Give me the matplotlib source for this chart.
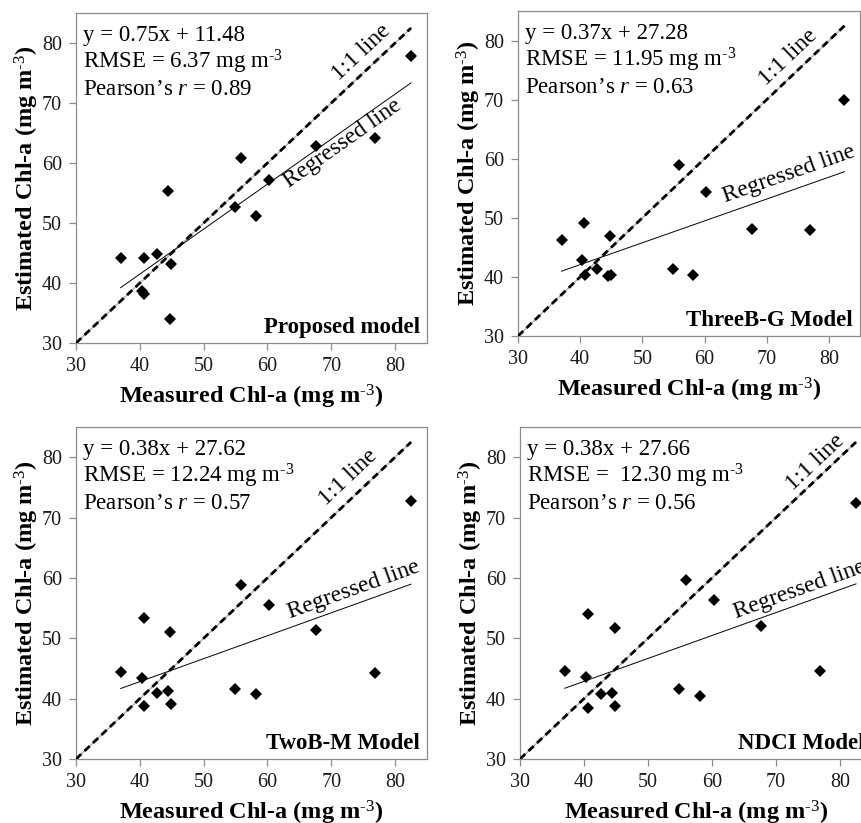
import numpy as np
import matplotlib
matplotlib.use("Agg")
import matplotlib.pyplot as plt

plt.rcParams["font.family"] = ["Liberation Serif", "DejaVu Serif"]
plt.rcParams["mathtext.fontset"] = "custom"
plt.rcParams["mathtext.rm"] = "Liberation Serif"
plt.rcParams["mathtext.it"] = "Liberation Serif:italic"
plt.rcParams["mathtext.bf"] = "Liberation Serif:bold"

# measured Chl-a (shared by all four panels)
measured = [37.0, 40.3, 40.6, 40.7, 42.7, 44.4, 44.8, 44.9, 54.9, 55.9, 58.2, 60.3, 67.6, 76.9, 82.5]

# estimated Chl-a per model
est_proposed = [44.1, 38.6, 44.1, 38.1, 44.8, 55.3, 34.0, 43.1, 52.6, 60.9, 51.2, 57.1, 62.9, 64.1, 77.9]
est_threeb = [46.3, 42.9, 49.1, 40.4, 41.3, 40.2, 47.0, 40.4, 41.4, 58.9, 40.3, 54.4, 48.1, 47.9, 69.9]
est_twob = [44.4, 43.5, 53.4, 38.8, 40.9, 41.2, 51.0, 39.1, 41.6, 58.8, 40.7, 55.5, 51.4, 44.3, 72.8]
est_ndci = [44.6, 43.6, 54.1, 38.4, 40.7, 41.0, 51.7, 38.7, 41.6, 59.6, 40.5, 56.4, 52.0, 44.5, 72.4]

model_names = ["Proposed model", "ThreeB-G Model", "TwoB-M Model", "NDCI Model"]
slopes = [0.75, 0.37, 0.38, 0.38]
intercepts = [11.48, 27.28, 27.62, 27.66]
rmse_values = ["6.37", "11.95", "12.24", " 12.30"]
pearson_values = ["0.89", "0.63", "0.57", "0.56"]

ticks = [30, 40, 50, 60, 70, 80]

# layout (pixels of the 861x823 figure -> figure fractions)
W, H = 861, 823
PANELS = [
    (76, 427, 13, 343),
    (518, 860, 11, 336),
    (76, 427, 427, 759),
    (520, 872, 427, 759),
]
# label positions in data units: (1:1 label, regressed label)
LABEL_POS = [
    ((74.7, 78.4), (71.8, 63.3)),
    ((73.5, 77.1), (73.5, 57.4)),
    ((72.7, 76.6), (73.5, 58.0)),
    ((76.1, 79.1), (73.7, 58.0)),
]

SPINE = "#8c8c8c"
UNIT = "(mg m$\\mathbf{^{\\text{-3}}}$)"

fig = plt.figure(figsize=(W / 100, H / 100), dpi=100)
fig.patch.set_facecolor("white")

estimates = [est_proposed, est_threeb, est_twob, est_ndci]

for i, est in enumerate(estimates):
    left, right, top, bottom = PANELS[i]
    ax = fig.add_axes([left / W, 1 - bottom / H, (right - left) / W, (bottom - top) / H])
    ax.set_xlim(30, 85)
    ax.set_ylim(30, 85)
    ax.set_xticks(ticks)
    ax.set_yticks(ticks)
    for sp in ax.spines.values():
        sp.set_color(SPINE)
        sp.set_linewidth(0.9)
    ax.tick_params(direction="out", length=5, width=0.9, color=SPINE,
                   labelsize=14.5, labelcolor="#1a1a1a", pad=5)

    x = np.array(measured)
    xmax = x.max()
    ax.plot([30, xmax], [30, xmax], color="#b0b0b0", lw=1.0, zorder=2)
    ax.plot([30, xmax], [30, xmax], color="black", lw=2.0,
            dashes=(2.6, 1.6), zorder=3)

    xr = np.array([x.min(), x.max()])
    ax.plot(xr, slopes[i] * xr + intercepts[i], color="black", lw=0.7, zorder=3)

    ax.plot(measured, est, "D", color="black", ms=6.2, mew=0, zorder=4)

    (ox, oy), (rx, ry) = LABEL_POS[i]
    ax.text(ox, oy, "1:1 line", fontsize=17, rotation=45,
            transform_rotates_text=True, rotation_mode="anchor",
            ha="center", va="center")
    ax.text(rx, ry, "Regressed line", fontsize=17,
            rotation=np.degrees(np.arctan(slopes[i])),
            transform_rotates_text=True, rotation_mode="anchor",
            ha="center", va="center")

    tx = 7 / (right - left)
    h = bottom - top
    ax.text(tx, 1 - 28 / h, f"y = {slopes[i]:.2f}x + {intercepts[i]:.2f}",
            transform=ax.transAxes, fontsize=16.5, va="baseline")
    ax.text(tx, 1 - 55 / h, f"RMSE = {rmse_values[i]} mg m$^{{\\text{{-3}}}}$",
            transform=ax.transAxes, fontsize=16.5, va="baseline")
    ax.text(tx, 1 - 82 / h, f"Pearson\u2019s $\\mathit{{r}}$ = {pearson_values[i]}",
            transform=ax.transAxes, fontsize=16.5, va="baseline")

    ax.text(1 - 7 / (right - left), 10 / h, model_names[i], transform=ax.transAxes,
            fontsize=16.5, fontweight="bold", ha="right", va="baseline")

    ax.set_xlabel("Measured Chl-a " + UNIT, fontsize=17.5,
                  fontweight="bold", labelpad=5)
    ax.set_ylabel("Estimated Chl-a " + UNIT, fontsize=17.5,
                  fontweight="bold", labelpad=1)

fig.savefig("out.png", dpi=100)
